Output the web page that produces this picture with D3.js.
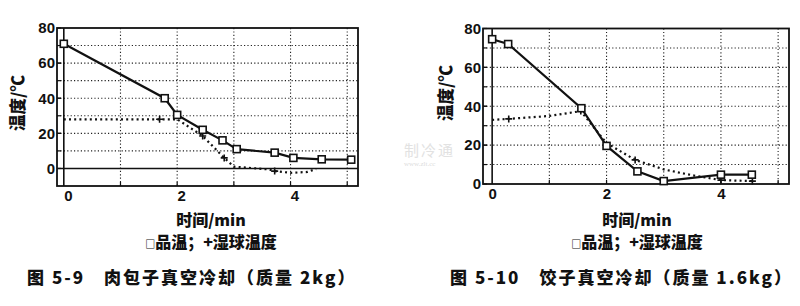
<!DOCTYPE html>
<html>
<head>
<meta charset="utf-8">
<script src="https://cdn.jsdelivr.net/npm/d3@7"></script>
<style>
  body { margin: 0; background: #fff; }
  svg { display: block; }
  .tick text { font-family: "Liberation Sans", Arial, sans-serif; font-weight: bold; font-size: 15px; fill: #111; }
  .lbl { font-family: "Noto Sans CJK SC", sans-serif; font-weight: 900; fill: #111; }
</style>
</head>
<body>
<svg id="chart" width="800" height="306"></svg>
<script>
var w = 800;
var h = 306;

// shared tick values
var xTicks = [0, 2, 4];
var yTicks = [0, 20, 40, 60, 80];
var xGrid = [1, 2, 3, 4, 5];
var yGrid = [10, 20, 30, 40, 50, 60, 70];

// fig 5-9 meat buns (2kg)
var baoziTime = [0, 1.78, 2.0, 2.45, 2.8, 3.05, 3.72, 4.05, 4.55, 5.07];
var baoziProduct = [71, 40, 30.5, 22, 16, 11, 9, 6, 5.2, 5];
var baoziWetTime = [0, 1.69, 2.0, 2.45, 2.83, 3.0, 3.6, 3.72, 4.0, 4.3, 4.45];
var baoziWet = [28, 28, 28, 18.5, 6, 1, -0.5, -1.5, -2.5, -2, -0.3];
var baoziWetMark = [0, 1, 0, 1, 1, 0, 0, 1, 0, 0, 0];

// fig 5-10 dumplings (1.6kg)
var jiaoziTime = [0, 0.28, 1.56, 2.0, 2.54, 3.0, 4.0, 4.54];
var jiaoziProduct = [74.5, 72, 39, 19.6, 6.5, 1.5, 4.8, 4.8];
var jiaoziWetTime = [0, 0.29, 1.0, 1.55, 2.0, 2.5, 3.0, 3.5, 4.0, 4.55];
var jiaoziWet = [33, 33.5, 35, 37.5, 21, 12.4, 7.5, 4.5, 2, 1.5];
var jiaoziWetMark = [0, 1, 0, 1, 0, 1, 0, 0, 1, 1];

var svg = d3.select("#chart");

function drawChart(c) {
  var x = d3.scaleLinear().domain(c.xDomain).range([c.left, c.right]);
  var y = d3.scaleLinear().domain(c.yDomain).range([c.bottom, c.top]);
  var g = svg.append("g");

  // dotted grid
  g.selectAll(".vgrid").data(xGrid).enter().append("line")
    .attr("x1", function(d){ return x(d); }).attr("x2", function(d){ return x(d); })
    .attr("y1", c.top).attr("y2", c.bottom)
    .style("stroke", "#222").style("stroke-width", 1.1).style("stroke-dasharray", "1.2,2.2");
  g.selectAll(".hgrid").data(yGrid).enter().append("line")
    .attr("x1", c.left).attr("x2", c.right)
    .attr("y1", function(d){ return y(d); }).attr("y2", function(d){ return y(d); })
    .style("stroke", "#222").style("stroke-width", 1.1).style("stroke-dasharray", "1.2,2.2");

  // zero lines
  g.append("line").attr("x1", x(0)).attr("x2", x(0)).attr("y1", c.top).attr("y2", c.bottom)
    .style("stroke", "#111").style("stroke-width", 1.6);
  if (c.yDomain[0] < 0) {
    g.append("line").attr("x1", c.left).attr("x2", c.right).attr("y1", y(0)).attr("y2", y(0))
      .style("stroke", "#111").style("stroke-width", 1.4);
  }

  // frame
  g.append("rect").attr("x", c.left).attr("y", c.top)
    .attr("width", c.right - c.left).attr("height", c.bottom - c.top)
    .style("fill", "none").style("stroke", "#111").style("stroke-width", 1.8);

  // small inward ticks on the frame
  g.selectAll(".ytk").data(yGrid.concat(yTicks)).enter().append("line")
    .attr("x1", c.left).attr("x2", c.left + 4)
    .attr("y1", function(d){ return y(d); }).attr("y2", function(d){ return y(d); })
    .style("stroke", "#111").style("stroke-width", 1.2);
  g.selectAll(".xtk").data(xGrid).enter().append("line")
    .attr("x1", function(d){ return x(d); }).attr("x2", function(d){ return x(d); })
    .attr("y1", c.bottom).attr("y2", c.bottom - 4)
    .style("stroke", "#111").style("stroke-width", 1.2);

  // tick labels via axes
  g.append("g").attr("transform", "translate(" + c.xLabShift + "," + (c.bottom + 1) + ")")
    .call(d3.axisBottom(x).tickValues(xTicks).tickFormat(d3.format("d")).tickSize(0).tickPadding(3))
    .call(function(a){ a.select(".domain").remove(); });
  g.append("g").attr("transform", "translate(" + (c.left - 1) + ",0)")
    .call(d3.axisLeft(y).tickValues(yTicks).tickFormat(d3.format("d")).tickSize(0).tickPadding(1))
    .call(function(a){ a.select(".domain").remove(); });

  // wet bulb line (dotted, plus markers)
  var wetPts = c.wetTime.map(function(t, i){ return [t, c.wet[i], c.wetMark[i]]; });
  var line = d3.line().x(function(d){ return x(d[0]); }).y(function(d){ return y(d[1]); });
  g.append("path").datum(wetPts).attr("d", line)
    .style("fill", "none").style("stroke", "#111").style("stroke-width", 2.2)
    .style("stroke-dasharray", "2,3.2");
  g.selectAll(".plus").data(wetPts.filter(function(d){ return d[2]; })).enter().append("path")
    .attr("d", function(d){
      var px = x(d[0]), py = y(d[1]);
      return "M" + (px - 3.5) + "," + py + "H" + (px + 3.5) + "M" + px + "," + (py - 3.5) + "V" + (py + 3.5);
    })
    .style("stroke", "#111").style("stroke-width", 1.6);

  // product temperature line (solid, square markers)
  var prodPts = c.time.map(function(t, i){ return [t, c.product[i]]; });
  g.append("path").datum(prodPts).attr("d", line)
    .style("fill", "none").style("stroke", "#111").style("stroke-width", 2.2);
  g.selectAll(".sq").data(prodPts).enter().append("rect")
    .attr("x", function(d){ return x(d[0]) - 3.5; })
    .attr("y", function(d){ return y(d[1]) - 3.5; })
    .attr("width", 7).attr("height", 7)
    .style("fill", "#fff").style("stroke", "#111").style("stroke-width", 1.6);

  // axis titles
  g.append("text").attr("class", "lbl")
    .attr("transform", "translate(" + c.yTitleX + "," + c.yTitleY + ") rotate(-90)")
    .attr("text-anchor", "middle").attr("dy", "0.35em")
    .style("font-size", "16.5px").text("温度/℃");
  g.append("text").attr("class", "lbl")
    .attr("x", c.midX).attr("y", 220).attr("text-anchor", "middle").attr("dy", "0.35em")
    .style("font-size", "16px").text("时间/min");
  var leg = g.append("text").attr("class", "lbl")
    .attr("x", c.midX).attr("y", 242).attr("text-anchor", "middle").attr("dy", "0.35em")
    .style("font-size", "16px");
  leg.append("tspan").style("font-size", "10px").text("□");
  leg.append("tspan").text("品温；+湿球温度");

  // caption
  g.append("text").attr("class", "lbl")
    .attr("x", c.capX).attr("y", 278).attr("dy", "0.35em")
    .style("font-size", "17px").style("letter-spacing", "2px")
    .text(c.caption);
}

drawChart({
  left: 57, right: 358, top: 28, bottom: 186,
  xDomain: [-0.12, 5.19], yDomain: [-10, 80], xLabShift: 4,
  time: baoziTime, product: baoziProduct,
  wetTime: baoziWetTime, wet: baoziWet, wetMark: baoziWetMark,
  yTitleX: 18, yTitleY: 103, midX: 211, capX: 27,
  caption: "图 5-9\u2003肉包子真空冷却（质量 2kg）"
});

drawChart({
  left: 483, right: 789, top: 28.5, bottom: 184,
  xDomain: [-0.16, 5.19], yDomain: [0, 80], xLabShift: 0,
  time: jiaoziTime, product: jiaoziProduct,
  wetTime: jiaoziWetTime, wet: jiaoziWet, wetMark: jiaoziWetMark,
  yTitleX: 446, yTitleY: 93, midX: 637, capX: 450,
  caption: "图 5-10\u2003饺子真空冷却（质量 1.6kg）"
});

// faint watermark
svg.append("text").attr("x", 404).attr("y", 156)
  .style("font-family", "Noto Sans CJK SC").style("font-size", "15px")
  .style("fill", "#e2e2e2").style("letter-spacing", "2px").text("制冷通");
svg.append("text").attr("x", 404).attr("y", 166)
  .style("font-family", "Liberation Serif").style("font-size", "7px")
  .style("fill", "#dcdcdc").text("www.zlt.cc");
</script>
</body>
</html>
